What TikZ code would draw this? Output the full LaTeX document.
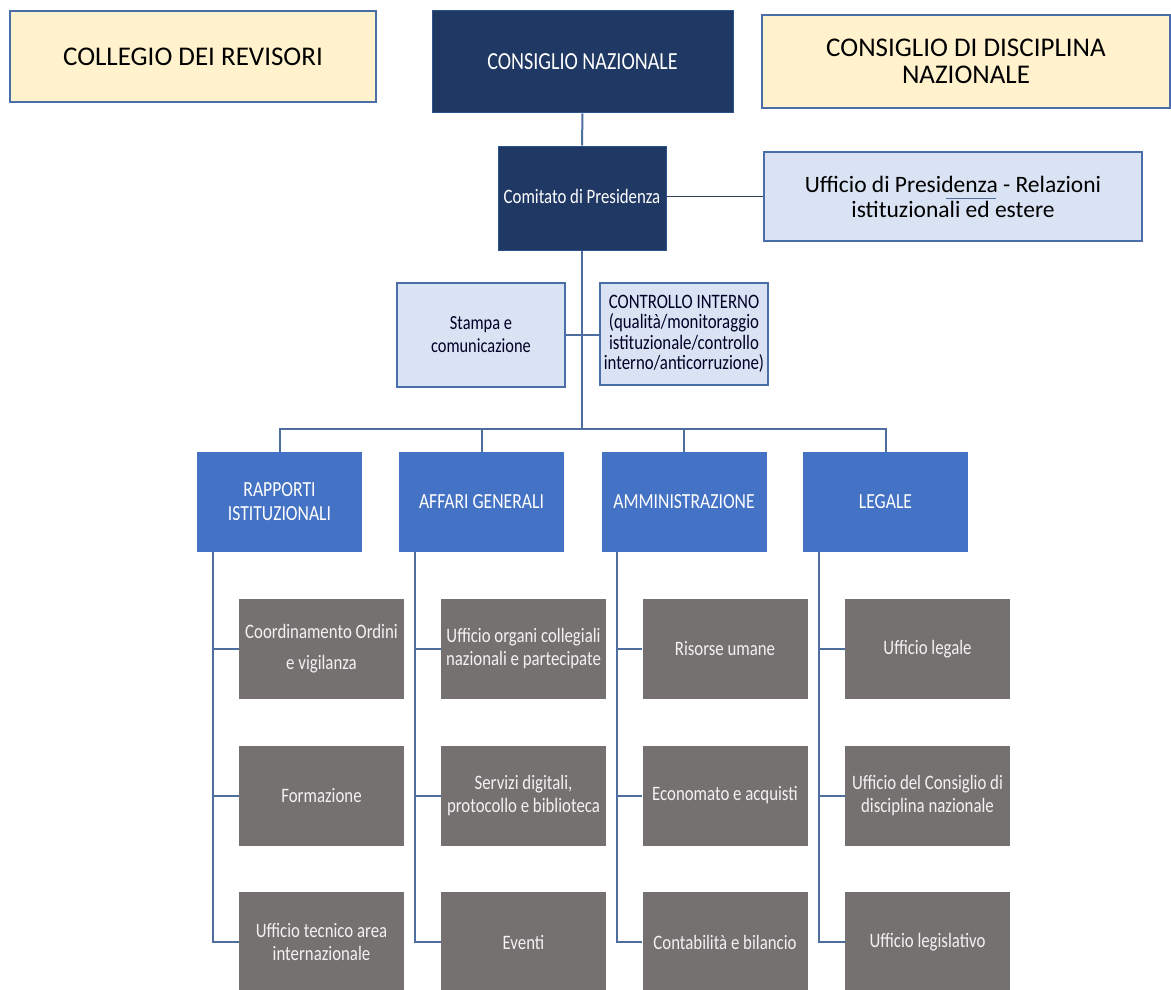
\documentclass[tikz,border=0pt]{standalone}
\usepackage{fontspec}
\setmainfont{Carlito}
\newfontfamily\cond[FakeStretch=0.82]{Carlito}
\definecolor{navy}{RGB}{32,56,100}
\definecolor{navyborder}{RGB}{47,82,143}
\definecolor{beige}{RGB}{255,242,204}
\definecolor{beigeborder}{RGB}{74,111,168}
\definecolor{lightblue}{RGB}{218,227,243}
\definecolor{lightborder}{RGB}{74,111,168}
\definecolor{depblue}{RGB}{68,114,196}
\definecolor{grayfill}{RGB}{118,113,113}
\definecolor{lineblue}{RGB}{79,110,160}
\definecolor{darkline}{RGB}{50,62,85}
\begin{document}
\begin{tikzpicture}[x=1pt,y=-1pt,
  conn/.style={draw=lineblue, line width=2pt},
  beigebox/.style={draw=beigeborder, fill=beige, line width=1.3pt, text=black, align=center, inner sep=0pt},
  navybox/.style={draw=navyborder, fill=navy, line width=1pt, text=white, align=center, inner sep=0pt},
  lightbox/.style={draw=lightborder, fill=lightblue, line width=1.3pt, text=black!85!blue, align=center, inner sep=0pt},
  depbox/.style={fill=depblue, text=white, align=center, inner sep=0pt, minimum width=165pt, minimum height=100pt, font=\cond\fontsize{21.5}{24}\selectfont},
  graybox/.style={fill=grayfill, text=white!95!black, align=center, inner sep=0pt, minimum width=165pt, minimum height=100pt, font=\cond\fontsize{20.5}{23}\selectfont}]
\useasboundingbox (0,0) rectangle (1171,990);
\fill[white] (0,0) rectangle (1171,990);

% top row
\node[beigebox, minimum width=366pt, minimum height=91pt, font=\fontsize{27}{30}\selectfont] (coll) at (193,56.5) {COLLEGIO DEI REVISORI};
\node[navybox, minimum width=301pt, minimum height=102pt, font=\cond\fontsize{24.5}{28}\selectfont] (cn) at (582.5,62) {CONSIGLIO NAZIONALE};
\node[beigebox, minimum width=408pt, minimum height=93pt, font=\fontsize{27}{29}\selectfont] (cdn) at (966,61.5) {\raisebox{-2pt}{CONSIGLIO DI DISCIPLINA}\\NAZIONALE};

% presidency
\node[navybox, minimum width=168pt, minimum height=104pt, font=\cond\fontsize{20.5}{24}\selectfont] (com) at (582,198) {\raisebox{4pt}{Comitato di Presidenza}};
\node[lightbox, text=black, minimum width=378pt, minimum height=89pt, font=\fontsize{23.5}{25}\selectfont] (upr) at (953,196.5) {Ufficio di Presidenza - Relazioni\\istituzionali ed estere};
\draw[draw=lineblue, line width=1pt] (946,198) -- (996,198);

% staff
\node[lightbox, minimum width=168pt, minimum height=104pt, font=\cond\fontsize{20}{23}\selectfont] (st) at (481,335) {Stampa e\\comunicazione};
\node[lightbox, minimum width=168pt, minimum height=102pt, font=\cond\fontsize{20.5}{20.5}\selectfont] (ci) at (684,334) {\raisebox{-3pt}{CONTROLLO INTERNO}\\\raisebox{-3pt}{(qualità/monitoraggio}\\\raisebox{-3pt}{istituzionale/controllo}\\\raisebox{-3pt}{interno/anticorruzione)}};

% departments
\node[depbox] (d1) at (279.5,502) {RAPPORTI\\ISTITUZIONALI};
\node[depbox] (d2) at (481.5,502) {AFFARI GENERALI};
\node[depbox] (d3) at (684,502) {AMMINISTRAZIONE};
\node[depbox] (d4) at (885.5,502) {LEGALE};

% offices
\node[graybox, font=\cond\fontsize{20.5}{31}\selectfont] (g11) at (321.5,649) {Coordinamento Ordini\\e vigilanza};
\node[graybox] (g12) at (321.5,795.5) {Formazione};
\node[graybox] (g13) at (321.5,942) {Ufficio tecnico area\\internazionale};
\node[graybox] (g21) at (523.5,649) {Ufficio organi collegiali\\nazionali e partecipate};
\node[graybox] (g22) at (523.5,795.5) {Servizi digitali,\\protocollo e biblioteca};
\node[graybox] (g23) at (523.5,942) {Eventi};
\node[graybox] (g31) at (725,649) {Risorse umane};
\node[graybox] (g32) at (725,795.5) {Economato e acquisti};
\node[graybox] (g33) at (725,942) {Contabilità e bilancio};
\node[graybox] (g41) at (927.5,649) {Ufficio legale};
\node[graybox] (g42) at (927.5,795.5) {Ufficio del Consiglio di\\disciplina nazionale};
\node[graybox] (g43) at (927.5,942) {Ufficio legislativo};

% connectors
\coordinate (bus) at (583,429);
\draw[conn] (cn.south) -- (com.north);
\draw[conn, draw=darkline, line width=1.6pt] (upr.west) -- (upr.west -| com.east);
\draw[conn] (com.south) -- (com.south |- bus);
\draw[conn] (st.east) -- (st.east -| ci.west);
\draw[conn] (d1.north) -- (d1.north |- bus) -- (d4.north |- bus) -- (d4.north);
\draw[conn] (d2.north) -- (d2.north |- bus);
\draw[conn] (d3.north) -- (d3.north |- bus);

\foreach \k in {1,2,3,4}{
  \coordinate (s\k) at ([xshift=16pt]d\k.south west);
  \draw[conn] (s\k) |- (g\k3.west);
  \draw[conn] (g\k1.west) -- (g\k1.west -| s\k);
  \draw[conn] (g\k2.west) -- (g\k2.west -| s\k);
}
\end{tikzpicture}
\end{document}
